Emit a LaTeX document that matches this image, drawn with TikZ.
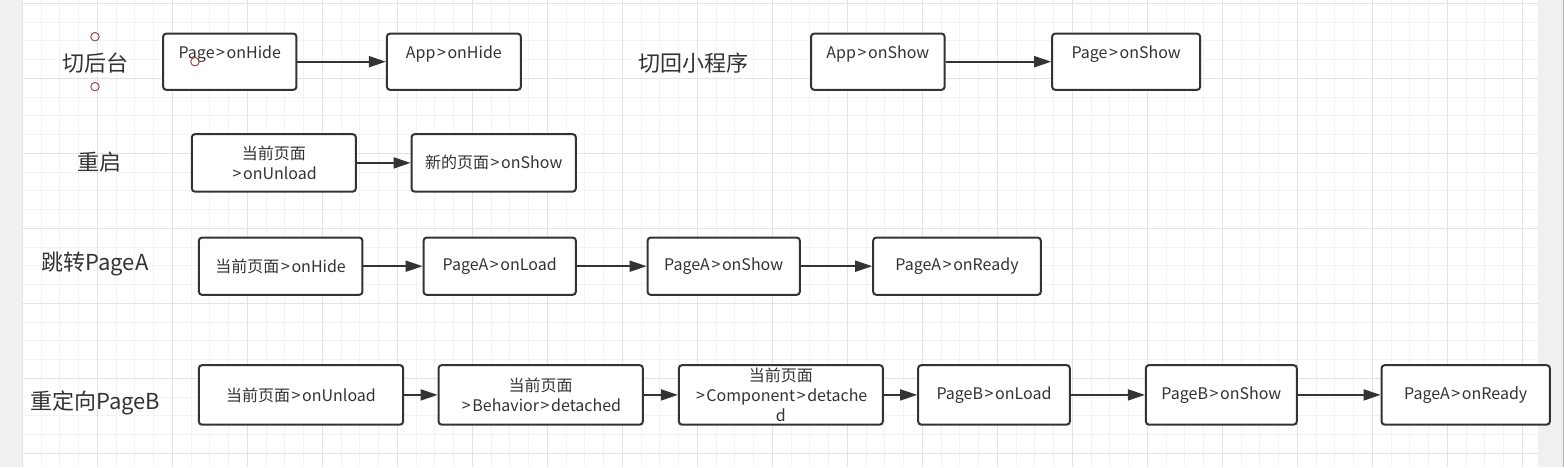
\documentclass[tikz,border=0pt]{standalone}
\usepackage{fontspec}
\setmainfont{Noto Sans CJK SC}
\usetikzlibrary{arrows.meta}
\definecolor{ink}{HTML}{333333}
\definecolor{gridminor}{HTML}{F3F3F3}
\definecolor{gridmajor}{HTML}{E3E3E3}
\definecolor{side}{HTML}{F0F0F0}
\definecolor{handle}{HTML}{A33A3A}
\newcommand\gtc{\kern1.6pt>\kern1.6pt}
\newcommand\lcbox[6]{\node[box, minimum width={#3-#2-1.8}, minimum height={#5-#4-1.8}] (#1) at ({(#2+#3)/2},{(#4+#5)/2}) {#6};}
\begin{document}
\begin{tikzpicture}[x=1pt,y=-1pt,
 box/.style={draw=ink, line width=2pt, rounded corners=3pt, fill=white, inner sep=0pt, align=center, text=ink, font=\fontsize{16}{20}\selectfont},
 lbl/.style={text=ink, font=\fontsize{22}{24}\selectfont, inner sep=0pt},
 arr/.style={draw=ink, line width=1.8pt, -{Triangle[length=17pt,width=11pt]}},
 handlec/.style={draw=handle, line width=0.9pt, circle, inner sep=0pt, minimum size=8.5pt}]
\useasboundingbox (0,0) rectangle (1564,467);
\fill[side] (0,0) rectangle (1564,467);
\fill[white] (22.3,0) rectangle (1538,467);
\foreach \k in {0,...,80} \draw[gridminor, line width=1pt] ({22.3+18.75*\k},0) -- ({22.3+18.75*\k},467);
\foreach \k in {0,...,24} \draw[gridminor, line width=1pt] (22.3,{3.3+18.75*\k}) -- (1538,{3.3+18.75*\k});
\foreach \k in {0,...,20} \draw[gridmajor, line width=1pt] ({22.3+75*\k},0) -- ({22.3+75*\k},467);
\foreach \k in {0,...,6} \draw[gridmajor, line width=1pt] (22.3,{3.3+75*\k}) -- (1538,{3.3+75*\k});
\draw[gray!60, line width=1pt] (1563.5,0) -- (1563.5,467);

% labels
\node[lbl] (L1) at (95.5,63.3) {切后台};
\node[lbl] (L2) at (693.6,63.3) {切回小程序};
\node[lbl] (L3) at (99,162) {重启};
\node[lbl] (L4) at (95,264) {跳转PageA};
\node[lbl] (L5) at (95.3,403) {重定向PageB};

% row 1
\lcbox{A1}{162.3}{297.3}{32.7}{90.7}{\strut Page\gtc onHide\\\mbox{}}
\lcbox{A2}{386}{521.7}{32.7}{90.7}{\strut App\gtc onHide\\\mbox{}}
\lcbox{A3}{810.2}{945.5}{32.7}{90.7}{\strut App\gtc onShow\\\mbox{}}
\lcbox{A4}{1051.3}{1201}{32.7}{90.7}{\strut Page\gtc onShow\\\mbox{}}
% row 2
\lcbox{B1}{191}{356.7}{133.3}{192.5}{当前页面\\\gtc onUnload}
\lcbox{B2}{410.7}{576.7}{133.3}{192.5}{新的页面\gtc onShow}
% row 3
\lcbox{C1}{198}{363.3}{236.7}{295.7}{当前页面\gtc onHide}
\lcbox{C2}{422.7}{576.7}{236.7}{295.7}{PageA\gtc onLoad}
\lcbox{C3}{646.7}{800.7}{236.7}{295.7}{PageA\gtc onShow}
\lcbox{C4}{872.3}{1041.7}{236.7}{295.7}{PageA\gtc onReady}
% row 4
\lcbox{D1}{198}{404}{364.3}{425.5}{当前页面\gtc onUnload}
\lcbox{D2}{437.7}{643.7}{364.3}{425.5}{当前页面\\\gtc Behavior\gtc detached}
\lcbox{D3}{678}{883.7}{364.3}{425.5}{当前页面\\\gtc Component\gtc detache\\d}
\lcbox{D4}{917.3}{1070.7}{364.3}{425.5}{PageB\gtc onLoad}
\lcbox{D5}{1145}{1297.7}{364.3}{425.5}{PageB\gtc onShow}
\lcbox{D6}{1380.7}{1550.7}{364.3}{425.5}{PageA\gtc onReady}

% connectors
\draw[arr] (A1) -- (A2);
\draw[arr] (A3) -- (A4);
\draw[arr] (B1) -- (B2);
\draw[arr] (C1) -- (C2);
\draw[arr] (C2) -- (C3);
\draw[arr] (C3) -- (C4);
\draw[arr] (D1) -- (D2);
\draw[arr] (D2) -- (D3);
\draw[arr] (D3) -- (D4);
\draw[arr] (D4) -- (D5);
\draw[arr] (D5) -- (D6);

% selection handles
\node[handlec] (h1) at (95,36.7) {};
\node[handlec] (h2) at (95,86.7) {};
\node[handlec] (h3) at (195,61.7) {};
\end{tikzpicture}
\end{document}
